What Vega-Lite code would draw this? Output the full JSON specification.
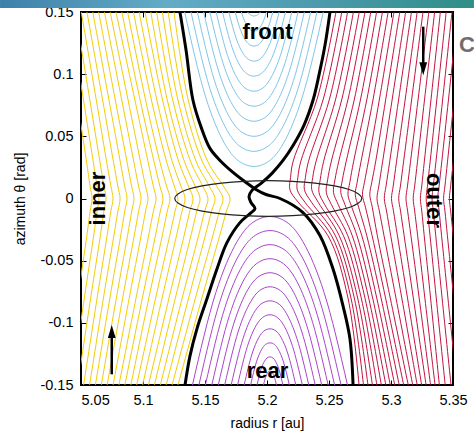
{
"$schema": "https://vega.github.io/schema/vega-lite/v6.json",
"width": 372, "height": 373,
"autosize": {"type": "none"},
"padding": {"left": 81, "top": 12, "right": 21, "bottom": 47},
"background": "white",
"config": {
 "font": "Liberation Sans",
 "view": {"stroke": "#000", "strokeWidth": 2},
 "axis": {"grid": false, "domain": false, "tickColor": "#000", "tickWidth": 1, "labelColor": "#000", "titleColor": "#000", "labelFont": "Liberation Sans", "titleFont": "Liberation Sans", "labelFontSize": 14.5, "titleFontSize": 14, "titleFontWeight": "normal"}
},
"datasets": {
 "banner": [{"r": 4.9847, "r2": 5.3669, "t": 0.1532, "t2": 0.1597}],
 "inner": [
 {"l":1,"r":5.1250,"t":0.15},{"l":1,"r":5.1363,"t":0.08},{"l":1,"r":5.1521,"t":0.03},{"l":1,"r":5.1648,"t":0.01},{"l":1,"r":5.1702,"t":0},{"l":1,"r":5.1673,"t":-0.01},{"l":1,"r":5.1618,"t":-0.03},{"l":1,"r":5.1475,"t":-0.08},{"l":1,"r":5.1282,"t":-0.15},
 {"l":2,"r":5.1203,"t":0.15},{"l":2,"r":5.1323,"t":0.08},{"l":2,"r":5.1477,"t":0.03},{"l":2,"r":5.1594,"t":0.01},{"l":2,"r":5.1645,"t":0},{"l":2,"r":5.1616,"t":-0.01},{"l":2,"r":5.1563,"t":-0.03},{"l":2,"r":5.1423,"t":-0.08},{"l":2,"r":5.1235,"t":-0.15},
 {"l":3,"r":5.1156,"t":0.15},{"l":3,"r":5.1280,"t":0.08},{"l":3,"r":5.1428,"t":0.03},{"l":3,"r":5.1534,"t":0.01},{"l":3,"r":5.1581,"t":0},{"l":3,"r":5.1553,"t":-0.01},{"l":3,"r":5.1502,"t":-0.03},{"l":3,"r":5.1368,"t":-0.08},{"l":3,"r":5.1187,"t":-0.15},
 {"l":4,"r":5.1110,"t":0.15},{"l":4,"r":5.1238,"t":0.08},{"l":4,"r":5.1383,"t":0.03},{"l":4,"r":5.1481,"t":0.01},{"l":4,"r":5.1524,"t":0},{"l":4,"r":5.1498,"t":-0.01},{"l":4,"r":5.1448,"t":-0.03},{"l":4,"r":5.1316,"t":-0.08},{"l":4,"r":5.1140,"t":-0.15},
 {"l":5,"r":5.1063,"t":0.15},{"l":5,"r":5.1194,"t":0.08},{"l":5,"r":5.1333,"t":0.03},{"l":5,"r":5.1420,"t":0.01},{"l":5,"r":5.1460,"t":0},{"l":5,"r":5.1434,"t":-0.01},{"l":5,"r":5.1386,"t":-0.03},{"l":5,"r":5.1261,"t":-0.08},{"l":5,"r":5.1092,"t":-0.15},
 {"l":6,"r":5.1016,"t":0.15},{"l":6,"r":5.1156,"t":0.08},{"l":6,"r":5.1287,"t":0.03},{"l":6,"r":5.1366,"t":0.01},{"l":6,"r":5.1403,"t":0},{"l":6,"r":5.1378,"t":-0.01},{"l":6,"r":5.1331,"t":-0.03},{"l":6,"r":5.1210,"t":-0.08},{"l":6,"r":5.1044,"t":-0.15},
 {"l":7,"r":5.0969,"t":0.15},{"l":7,"r":5.1110,"t":0.08},{"l":7,"r":5.1235,"t":0.03},{"l":7,"r":5.1306,"t":0.01},{"l":7,"r":5.1339,"t":0},{"l":7,"r":5.1315,"t":-0.01},{"l":7,"r":5.1270,"t":-0.03},{"l":7,"r":5.1154,"t":-0.08},{"l":7,"r":5.0997,"t":-0.15},
 {"l":8,"r":5.0923,"t":0.15},{"l":8,"r":5.1066,"t":0.08},{"l":8,"r":5.1189,"t":0.03},{"l":8,"r":5.1252,"t":0.01},{"l":8,"r":5.1282,"t":0},{"l":8,"r":5.1259,"t":-0.01},{"l":8,"r":5.1215,"t":-0.03},{"l":8,"r":5.1102,"t":-0.08},{"l":8,"r":5.0949,"t":-0.15},
 {"l":9,"r":5.0876,"t":0.15},{"l":9,"r":5.1019,"t":0.08},{"l":9,"r":5.1135,"t":0.03},{"l":9,"r":5.1190,"t":0.01},{"l":9,"r":5.1218,"t":0},{"l":9,"r":5.1196,"t":-0.01},{"l":9,"r":5.1155,"t":-0.03},{"l":9,"r":5.1047,"t":-0.08},{"l":9,"r":5.0902,"t":-0.15},
 {"l":10,"r":5.0829,"t":0.15},{"l":10,"r":5.0975,"t":0.08},{"l":10,"r":5.1088,"t":0.03},{"l":10,"r":5.1136,"t":0.01},{"l":10,"r":5.1161,"t":0},{"l":10,"r":5.1140,"t":-0.01},{"l":10,"r":5.1100,"t":-0.03},{"l":10,"r":5.0995,"t":-0.08},{"l":10,"r":5.0854,"t":-0.15},
 {"l":11,"r":5.0782,"t":0.15},{"l":11,"r":5.0933,"t":0.08},{"l":11,"r":5.1040,"t":0.03},{"l":11,"r":5.1083,"t":0.01},{"l":11,"r":5.1105,"t":0},{"l":11,"r":5.1084,"t":-0.01},{"l":11,"r":5.1045,"t":-0.03},{"l":11,"r":5.0944,"t":-0.08},{"l":11,"r":5.0806,"t":-0.15},
 {"l":12,"r":5.0735,"t":0.15},{"l":12,"r":5.0878,"t":0.08},{"l":12,"r":5.0979,"t":0.03},{"l":12,"r":5.1020,"t":0.01},{"l":12,"r":5.1040,"t":0},{"l":12,"r":5.1021,"t":-0.01},{"l":12,"r":5.0984,"t":-0.03},{"l":12,"r":5.0889,"t":-0.08},{"l":12,"r":5.0759,"t":-0.15},
 {"l":13,"r":5.0689,"t":0.15},{"l":13,"r":5.0827,"t":0.08},{"l":13,"r":5.0925,"t":0.03},{"l":13,"r":5.0964,"t":0.01},{"l":13,"r":5.0984,"t":0},{"l":13,"r":5.0965,"t":-0.01},{"l":13,"r":5.0929,"t":-0.03},{"l":13,"r":5.0836,"t":-0.08},{"l":13,"r":5.0711,"t":-0.15},
 {"l":14,"r":5.0642,"t":0.15},{"l":14,"r":5.0775,"t":0.08},{"l":14,"r":5.0870,"t":0.03},{"l":14,"r":5.0908,"t":0.01},{"l":14,"r":5.0927,"t":0},{"l":14,"r":5.0909,"t":-0.01},{"l":14,"r":5.0875,"t":-0.03},{"l":14,"r":5.0785,"t":-0.08},{"l":14,"r":5.0664,"t":-0.15},
 {"l":15,"r":5.0595,"t":0.15},{"l":15,"r":5.0724,"t":0.08},{"l":15,"r":5.0816,"t":0.03},{"l":15,"r":5.0852,"t":0.01},{"l":15,"r":5.0871,"t":0},{"l":15,"r":5.0853,"t":-0.01},{"l":15,"r":5.0820,"t":-0.03},{"l":15,"r":5.0733,"t":-0.08},{"l":15,"r":5.0616,"t":-0.15},
 {"l":16,"r":5.0548,"t":0.15},{"l":16,"r":5.0673,"t":0.08},{"l":16,"r":5.0761,"t":0.03},{"l":16,"r":5.0797,"t":0.01},{"l":16,"r":5.0815,"t":0},{"l":16,"r":5.0798,"t":-0.01},{"l":16,"r":5.0765,"t":-0.03},{"l":16,"r":5.0681,"t":-0.08},{"l":16,"r":5.0569,"t":-0.15},
 {"l":17,"r":5.0502,"t":0.15},{"l":17,"r":5.0622,"t":0.08},{"l":17,"r":5.0706,"t":0.03},{"l":17,"r":5.0741,"t":0.01},{"l":17,"r":5.0758,"t":0},{"l":17,"r":5.0741,"t":-0.01},{"l":17,"r":5.0710,"t":-0.03},{"l":17,"r":5.0630,"t":-0.08},{"l":17,"r":5.0521,"t":-0.15},
 {"l":18,"r":5.0455,"t":0.15},{"l":18,"r":5.0570,"t":0.08},{"l":18,"r":5.0652,"t":0.03},{"l":18,"r":5.0685,"t":0.01},{"l":18,"r":5.0702,"t":0},{"l":18,"r":5.0685,"t":-0.01},{"l":18,"r":5.0656,"t":-0.03},{"l":18,"r":5.0578,"t":-0.08},{"l":18,"r":5.0473,"t":-0.15},
 {"l":19,"r":5.0408,"t":0.15},{"l":19,"r":5.0519,"t":0.08},{"l":19,"r":5.0598,"t":0.03},{"l":19,"r":5.0629,"t":0.01},{"l":19,"r":5.0645,"t":0},{"l":19,"r":5.0630,"t":-0.01},{"l":19,"r":5.0602,"t":-0.03},{"l":19,"r":5.0527,"t":-0.08},{"l":19,"r":5.0426,"t":-0.15},
 {"l":20,"r":5.0361,"t":0.15},{"l":20,"r":5.0468,"t":0.08},{"l":20,"r":5.0544,"t":0.03},{"l":20,"r":5.0573,"t":0.01},{"l":20,"r":5.0589,"t":0},{"l":20,"r":5.0574,"t":-0.01},{"l":20,"r":5.0547,"t":-0.03},{"l":20,"r":5.0475,"t":-0.08},{"l":20,"r":5.0378,"t":-0.15}
 ],
 "outer": [
 {"l":1,"r":5.2556,"t":0.15},{"l":1,"r":5.2404,"t":0.08},{"l":1,"r":5.2211,"t":0.03},{"l":1,"r":5.2190,"t":0.017},{"l":1,"r":5.2185,"t":0.007},{"l":1,"r":5.2252,"t":-0.003},{"l":1,"r":5.2492,"t":-0.03},{"l":1,"r":5.2653,"t":-0.08},{"l":1,"r":5.2742,"t":-0.15},
 {"l":2,"r":5.2603,"t":0.15},{"l":2,"r":5.2454,"t":0.08},{"l":2,"r":5.2273,"t":0.03},{"l":2,"r":5.2249,"t":0.017},{"l":2,"r":5.2244,"t":0.007},{"l":2,"r":5.2306,"t":-0.003},{"l":2,"r":5.2521,"t":-0.03},{"l":2,"r":5.2677,"t":-0.08},{"l":2,"r":5.2778,"t":-0.15},
 {"l":3,"r":5.2650,"t":0.15},{"l":3,"r":5.2504,"t":0.08},{"l":3,"r":5.2335,"t":0.03},{"l":3,"r":5.2310,"t":0.017},{"l":3,"r":5.2302,"t":0.007},{"l":3,"r":5.2359,"t":-0.003},{"l":3,"r":5.2552,"t":-0.03},{"l":3,"r":5.2704,"t":-0.08},{"l":3,"r":5.2814,"t":-0.15},
 {"l":4,"r":5.2697,"t":0.15},{"l":4,"r":5.2554,"t":0.08},{"l":4,"r":5.2396,"t":0.03},{"l":4,"r":5.2369,"t":0.017},{"l":4,"r":5.2361,"t":0.007},{"l":4,"r":5.2413,"t":-0.003},{"l":4,"r":5.2583,"t":-0.03},{"l":4,"r":5.2731,"t":-0.08},{"l":4,"r":5.2850,"t":-0.15},
 {"l":5,"r":5.2744,"t":0.15},{"l":5,"r":5.2604,"t":0.08},{"l":5,"r":5.2457,"t":0.03},{"l":5,"r":5.2429,"t":0.015},{"l":5,"r":5.2419,"t":0.005},{"l":5,"r":5.2466,"t":-0.005},{"l":5,"r":5.2617,"t":-0.03},{"l":5,"r":5.2760,"t":-0.08},{"l":5,"r":5.2886,"t":-0.15},
 {"l":6,"r":5.2790,"t":0.15},{"l":6,"r":5.2654,"t":0.08},{"l":6,"r":5.2519,"t":0.03},{"l":6,"r":5.2489,"t":0.015},{"l":6,"r":5.2478,"t":0.005},{"l":6,"r":5.2520,"t":-0.005},{"l":6,"r":5.2652,"t":-0.03},{"l":6,"r":5.2790,"t":-0.08},{"l":6,"r":5.2922,"t":-0.15},
 {"l":7,"r":5.2837,"t":0.15},{"l":7,"r":5.2705,"t":0.08},{"l":7,"r":5.2579,"t":0.03},{"l":7,"r":5.2548,"t":0.015},{"l":7,"r":5.2536,"t":0.005},{"l":7,"r":5.2575,"t":-0.005},{"l":7,"r":5.2688,"t":-0.03},{"l":7,"r":5.2820,"t":-0.08},{"l":7,"r":5.2958,"t":-0.15},
 {"l":8,"r":5.2884,"t":0.15},{"l":8,"r":5.2755,"t":0.08},{"l":8,"r":5.2639,"t":0.03},{"l":8,"r":5.2608,"t":0.015},{"l":8,"r":5.2595,"t":0.005},{"l":8,"r":5.2629,"t":-0.005},{"l":8,"r":5.2726,"t":-0.03},{"l":8,"r":5.2852,"t":-0.08},{"l":8,"r":5.2994,"t":-0.15},
 {"l":9,"r":5.2931,"t":0.15},{"l":9,"r":5.2806,"t":0.08},{"l":9,"r":5.2699,"t":0.03},{"l":9,"r":5.2668,"t":0.013},{"l":9,"r":5.2653,"t":0.003},{"l":9,"r":5.2684,"t":-0.007},{"l":9,"r":5.2765,"t":-0.03},{"l":9,"r":5.2885,"t":-0.08},{"l":9,"r":5.3030,"t":-0.15},
 {"l":10,"r":5.2977,"t":0.15},{"l":10,"r":5.2856,"t":0.08},{"l":10,"r":5.2759,"t":0.03},{"l":10,"r":5.2727,"t":0.013},{"l":10,"r":5.2712,"t":0.003},{"l":10,"r":5.2739,"t":-0.007},{"l":10,"r":5.2805,"t":-0.03},{"l":10,"r":5.2920,"t":-0.08},{"l":10,"r":5.3066,"t":-0.15},
 {"l":11,"r":5.3024,"t":0.15},{"l":11,"r":5.2907,"t":0.08},{"l":11,"r":5.2818,"t":0.03},{"l":11,"r":5.2786,"t":0.013},{"l":11,"r":5.2770,"t":0.003},{"l":11,"r":5.2794,"t":-0.007},{"l":11,"r":5.2848,"t":-0.03},{"l":11,"r":5.2956,"t":-0.08},{"l":11,"r":5.3102,"t":-0.15},
 {"l":12,"r":5.3071,"t":0.15},{"l":12,"r":5.2958,"t":0.08},{"l":12,"r":5.2877,"t":0.03},{"l":12,"r":5.2845,"t":0.013},{"l":12,"r":5.2829,"t":0.003},{"l":12,"r":5.2849,"t":-0.007},{"l":12,"r":5.2890,"t":-0.03},{"l":12,"r":5.2994,"t":-0.08},{"l":12,"r":5.3139,"t":-0.15},
 {"l":13,"r":5.3118,"t":0.15},{"l":13,"r":5.3010,"t":0.08},{"l":13,"r":5.2933,"t":0.03},{"l":13,"r":5.2902,"t":0.01},{"l":13,"r":5.2887,"t":0},{"l":13,"r":5.2906,"t":-0.01},{"l":13,"r":5.2944,"t":-0.03},{"l":13,"r":5.3040,"t":-0.08},{"l":13,"r":5.3175,"t":-0.15},
 {"l":14,"r":5.3165,"t":0.15},{"l":14,"r":5.3062,"t":0.08},{"l":14,"r":5.2990,"t":0.03},{"l":14,"r":5.2960,"t":0.01},{"l":14,"r":5.2946,"t":0},{"l":14,"r":5.2964,"t":-0.01},{"l":14,"r":5.2998,"t":-0.03},{"l":14,"r":5.3087,"t":-0.08},{"l":14,"r":5.3211,"t":-0.15},
 {"l":15,"r":5.3211,"t":0.15},{"l":15,"r":5.3115,"t":0.08},{"l":15,"r":5.3045,"t":0.03},{"l":15,"r":5.3018,"t":0.01},{"l":15,"r":5.3004,"t":0},{"l":15,"r":5.3020,"t":-0.01},{"l":15,"r":5.3052,"t":-0.03},{"l":15,"r":5.3133,"t":-0.08},{"l":15,"r":5.3247,"t":-0.15},
 {"l":16,"r":5.3258,"t":0.15},{"l":16,"r":5.3167,"t":0.08},{"l":16,"r":5.3102,"t":0.03},{"l":16,"r":5.3076,"t":0.01},{"l":16,"r":5.3062,"t":0},{"l":16,"r":5.3077,"t":-0.01},{"l":16,"r":5.3106,"t":-0.03},{"l":16,"r":5.3180,"t":-0.08},{"l":16,"r":5.3283,"t":-0.15},
 {"l":17,"r":5.3305,"t":0.15},{"l":17,"r":5.3219,"t":0.08},{"l":17,"r":5.3158,"t":0.03},{"l":17,"r":5.3133,"t":0.01},{"l":17,"r":5.3121,"t":0},{"l":17,"r":5.3134,"t":-0.01},{"l":17,"r":5.3161,"t":-0.03},{"l":17,"r":5.3227,"t":-0.08},{"l":17,"r":5.3319,"t":-0.15},
 {"l":18,"r":5.3352,"t":0.15},{"l":18,"r":5.3271,"t":0.08},{"l":18,"r":5.3214,"t":0.03},{"l":18,"r":5.3191,"t":0.01},{"l":18,"r":5.3179,"t":0},{"l":18,"r":5.3191,"t":-0.01},{"l":18,"r":5.3215,"t":-0.03},{"l":18,"r":5.3273,"t":-0.08},{"l":18,"r":5.3355,"t":-0.15},
 {"l":19,"r":5.3398,"t":0.15},{"l":19,"r":5.3323,"t":0.08},{"l":19,"r":5.3269,"t":0.03},{"l":19,"r":5.3248,"t":0.01},{"l":19,"r":5.3237,"t":0},{"l":19,"r":5.3248,"t":-0.01},{"l":19,"r":5.3268,"t":-0.03},{"l":19,"r":5.3319,"t":-0.08},{"l":19,"r":5.3390,"t":-0.15},
 {"l":20,"r":5.3445,"t":0.15},{"l":20,"r":5.3370,"t":0.08},{"l":20,"r":5.3316,"t":0.03},{"l":20,"r":5.3294,"t":0.01},{"l":20,"r":5.3284,"t":0},{"l":20,"r":5.3294,"t":-0.01},{"l":20,"r":5.3315,"t":-0.03},{"l":20,"r":5.3365,"t":-0.08},{"l":20,"r":5.3437,"t":-0.15},
 {"l":21,"r":5.3492,"t":0.15},{"l":21,"r":5.3417,"t":0.08},{"l":21,"r":5.3363,"t":0.03},{"l":21,"r":5.3341,"t":0.01},{"l":21,"r":5.3331,"t":0},{"l":21,"r":5.3341,"t":-0.01},{"l":21,"r":5.3361,"t":-0.03},{"l":21,"r":5.3412,"t":-0.08},{"l":21,"r":5.3484,"t":-0.15},
 {"l":22,"r":5.3539,"t":0.15},{"l":22,"r":5.3464,"t":0.08},{"l":22,"r":5.3410,"t":0.03},{"l":22,"r":5.3388,"t":0.01},{"l":22,"r":5.3377,"t":0},{"l":22,"r":5.3388,"t":-0.01},{"l":22,"r":5.3408,"t":-0.03},{"l":22,"r":5.3459,"t":-0.08},{"l":22,"r":5.3531,"t":-0.15},
 {"l":23,"r":5.3585,"t":0.15},{"l":23,"r":5.3510,"t":0.08},{"l":23,"r":5.3456,"t":0.03},{"l":23,"r":5.3435,"t":0.01},{"l":23,"r":5.3424,"t":0},{"l":23,"r":5.3435,"t":-0.01},{"l":23,"r":5.3455,"t":-0.03},{"l":23,"r":5.3506,"t":-0.08},{"l":23,"r":5.3577,"t":-0.15},
 {"l":24,"r":5.3632,"t":0.15},{"l":24,"r":5.3557,"t":0.08},{"l":24,"r":5.3503,"t":0.03},{"l":24,"r":5.3481,"t":0.01},{"l":24,"r":5.3471,"t":0},{"l":24,"r":5.3481,"t":-0.01},{"l":24,"r":5.3502,"t":-0.03},{"l":24,"r":5.3552,"t":-0.08},{"l":24,"r":5.3624,"t":-0.15}
 ],
 "front": [
 {"l":1,"r":5.1844,"t":0.15},{"l":1,"r":5.1859,"t":0.1482},{"l":1,"r":5.1895,"t":0.1468},{"l":1,"r":5.1931,"t":0.1482},{"l":1,"r":5.1946,"t":0.15},
 {"l":2,"r":5.1793,"t":0.15},{"l":2,"r":5.1824,"t":0.1416},{"l":2,"r":5.1852,"t":0.1370},{"l":2,"r":5.1871,"t":0.1353},{"l":2,"r":5.1895,"t":0.1347},{"l":2,"r":5.1919,"t":0.1353},{"l":2,"r":5.1938,"t":0.1370},{"l":2,"r":5.1966,"t":0.1416},{"l":2,"r":5.1997,"t":0.15},
 {"l":3,"r":5.1743,"t":0.15},{"l":3,"r":5.1789,"t":0.1349},{"l":3,"r":5.1830,"t":0.1267},{"l":3,"r":5.1859,"t":0.1237},{"l":3,"r":5.1895,"t":0.1226},{"l":3,"r":5.1931,"t":0.1237},{"l":3,"r":5.1960,"t":0.1267},{"l":3,"r":5.2001,"t":0.1349},{"l":3,"r":5.2047,"t":0.15},
 {"l":4,"r":5.1692,"t":0.15},{"l":4,"r":5.1753,"t":0.1283},{"l":4,"r":5.1809,"t":0.1164},{"l":4,"r":5.1847,"t":0.1121},{"l":4,"r":5.1895,"t":0.1105},{"l":4,"r":5.1943,"t":0.1121},{"l":4,"r":5.1981,"t":0.1164},{"l":4,"r":5.2037,"t":0.1283},{"l":4,"r":5.2098,"t":0.15},
 {"l":5,"r":5.1641,"t":0.15},{"l":5,"r":5.1718,"t":0.1216},{"l":5,"r":5.1787,"t":0.1061},{"l":5,"r":5.1835,"t":0.1005},{"l":5,"r":5.1895,"t":0.0984},{"l":5,"r":5.1955,"t":0.1005},{"l":5,"r":5.2003,"t":0.1061},{"l":5,"r":5.2072,"t":0.1216},{"l":5,"r":5.2149,"t":0.15},
 {"l":6,"r":5.1590,"t":0.15},{"l":6,"r":5.1682,"t":0.1150},{"l":6,"r":5.1765,"t":0.0959},{"l":6,"r":5.1823,"t":0.0888},{"l":6,"r":5.1895,"t":0.0863},{"l":6,"r":5.1967,"t":0.0888},{"l":6,"r":5.2025,"t":0.0959},{"l":6,"r":5.2108,"t":0.1150},{"l":6,"r":5.2200,"t":0.15},
 {"l":7,"r":5.1539,"t":0.15},{"l":7,"r":5.1647,"t":0.1083},{"l":7,"r":5.1743,"t":0.0856},{"l":7,"r":5.1811,"t":0.0772},{"l":7,"r":5.1895,"t":0.0742},{"l":7,"r":5.1979,"t":0.0772},{"l":7,"r":5.2047,"t":0.0856},{"l":7,"r":5.2143,"t":0.1083},{"l":7,"r":5.2251,"t":0.15},
 {"l":8,"r":5.1489,"t":0.15},{"l":8,"r":5.1612,"t":0.1017},{"l":8,"r":5.1722,"t":0.0753},{"l":8,"r":5.1800,"t":0.0656},{"l":8,"r":5.1895,"t":0.0621},{"l":8,"r":5.1990,"t":0.0656},{"l":8,"r":5.2068,"t":0.0753},{"l":8,"r":5.2178,"t":0.1017},{"l":8,"r":5.2301,"t":0.15},
 {"l":9,"r":5.1438,"t":0.15},{"l":9,"r":5.1576,"t":0.095},{"l":9,"r":5.1700,"t":0.065},{"l":9,"r":5.1788,"t":0.054},{"l":9,"r":5.1895,"t":0.05},{"l":9,"r":5.2002,"t":0.054},{"l":9,"r":5.2090,"t":0.065},{"l":9,"r":5.2214,"t":0.095},{"l":9,"r":5.2352,"t":0.15},
 {"l":10,"r":5.1387,"t":0.15},{"l":10,"r":5.1540,"t":0.0883},{"l":10,"r":5.1679,"t":0.0547},{"l":10,"r":5.1776,"t":0.0424},{"l":10,"r":5.1895,"t":0.0379},{"l":10,"r":5.2014,"t":0.0424},{"l":10,"r":5.2111,"t":0.0547},{"l":10,"r":5.2250,"t":0.0883},{"l":10,"r":5.2403,"t":0.15},
 {"l":11,"r":5.1336,"t":0.15},{"l":11,"r":5.1505,"t":0.0817},{"l":11,"r":5.1657,"t":0.0444},{"l":11,"r":5.1764,"t":0.0308},{"l":11,"r":5.1895,"t":0.0258},{"l":11,"r":5.2026,"t":0.0308},{"l":11,"r":5.2133,"t":0.0444},{"l":11,"r":5.2285,"t":0.0817},{"l":11,"r":5.2454,"t":0.15}
 ],
 "rear": [
 {"l":1,"r":5.1972,"t":-0.15},{"l":1,"r":5.1988,"t":-0.1438},{"l":1,"r":5.2024,"t":-0.1387},{"l":1,"r":5.2060,"t":-0.1438},{"l":1,"r":5.2076,"t":-0.15},
 {"l":2,"r":5.1920,"t":-0.15},{"l":2,"r":5.1951,"t":-0.1376},{"l":2,"r":5.1980,"t":-0.1308},{"l":2,"r":5.2000,"t":-0.1283},{"l":2,"r":5.2024,"t":-0.1274},{"l":2,"r":5.2048,"t":-0.1283},{"l":2,"r":5.2068,"t":-0.1308},{"l":2,"r":5.2097,"t":-0.1376},{"l":2,"r":5.2128,"t":-0.15},
 {"l":3,"r":5.1868,"t":-0.15},{"l":3,"r":5.1915,"t":-0.1314},{"l":3,"r":5.1958,"t":-0.1212},{"l":3,"r":5.1987,"t":-0.1175},{"l":3,"r":5.2024,"t":-0.1161},{"l":3,"r":5.2061,"t":-0.1175},{"l":3,"r":5.2090,"t":-0.1212},{"l":3,"r":5.2133,"t":-0.1314},{"l":3,"r":5.2180,"t":-0.15},
 {"l":4,"r":5.1816,"t":-0.15},{"l":4,"r":5.1879,"t":-0.1251},{"l":4,"r":5.1935,"t":-0.1116},{"l":4,"r":5.1975,"t":-0.1066},{"l":4,"r":5.2024,"t":-0.1048},{"l":4,"r":5.2073,"t":-0.1066},{"l":4,"r":5.2113,"t":-0.1116},{"l":4,"r":5.2169,"t":-0.1251},{"l":4,"r":5.2232,"t":-0.15},
 {"l":5,"r":5.1763,"t":-0.15},{"l":5,"r":5.1842,"t":-0.1189},{"l":5,"r":5.1913,"t":-0.1020},{"l":5,"r":5.1963,"t":-0.0958},{"l":5,"r":5.2024,"t":-0.0935},{"l":5,"r":5.2085,"t":-0.0958},{"l":5,"r":5.2135,"t":-0.1020},{"l":5,"r":5.2206,"t":-0.1189},{"l":5,"r":5.2285,"t":-0.15},
 {"l":6,"r":5.1711,"t":-0.15},{"l":6,"r":5.1806,"t":-0.1128},{"l":6,"r":5.1891,"t":-0.0925},{"l":6,"r":5.1950,"t":-0.0850},{"l":6,"r":5.2024,"t":-0.0823},{"l":6,"r":5.2098,"t":-0.0850},{"l":6,"r":5.2157,"t":-0.0925},{"l":6,"r":5.2242,"t":-0.1128},{"l":6,"r":5.2337,"t":-0.15},
 {"l":7,"r":5.1659,"t":-0.15},{"l":7,"r":5.1769,"t":-0.1066},{"l":7,"r":5.1869,"t":-0.0829},{"l":7,"r":5.1938,"t":-0.0742},{"l":7,"r":5.2024,"t":-0.0710},{"l":7,"r":5.2110,"t":-0.0742},{"l":7,"r":5.2179,"t":-0.0829},{"l":7,"r":5.2279,"t":-0.1066},{"l":7,"r":5.2389,"t":-0.15},
 {"l":8,"r":5.1607,"t":-0.15},{"l":8,"r":5.1733,"t":-0.1003},{"l":8,"r":5.1846,"t":-0.0732},{"l":8,"r":5.1926,"t":-0.0633},{"l":8,"r":5.2024,"t":-0.0597},{"l":8,"r":5.2122,"t":-0.0633},{"l":8,"r":5.2202,"t":-0.0732},{"l":8,"r":5.2315,"t":-0.1003},{"l":8,"r":5.2441,"t":-0.15},
 {"l":9,"r":5.1555,"t":-0.15},{"l":9,"r":5.1697,"t":-0.0941},{"l":9,"r":5.1824,"t":-0.0636},{"l":9,"r":5.1914,"t":-0.0525},{"l":9,"r":5.2024,"t":-0.0484},{"l":9,"r":5.2134,"t":-0.0525},{"l":9,"r":5.2224,"t":-0.0636},{"l":9,"r":5.2351,"t":-0.0941},{"l":9,"r":5.2493,"t":-0.15},
 {"l":10,"r":5.1503,"t":-0.15},{"l":10,"r":5.1660,"t":-0.0879},{"l":10,"r":5.1802,"t":-0.0540},{"l":10,"r":5.1902,"t":-0.0416},{"l":10,"r":5.2024,"t":-0.0371},{"l":10,"r":5.2146,"t":-0.0416},{"l":10,"r":5.2246,"t":-0.0540},{"l":10,"r":5.2388,"t":-0.0879},{"l":10,"r":5.2545,"t":-0.15},
 {"l":11,"r":5.1451,"t":-0.15},{"l":11,"r":5.1624,"t":-0.0817},{"l":11,"r":5.1780,"t":-0.0444},{"l":11,"r":5.1889,"t":-0.0308},{"l":11,"r":5.2024,"t":-0.0258},{"l":11,"r":5.2159,"t":-0.0308},{"l":11,"r":5.2268,"t":-0.0444},{"l":11,"r":5.2424,"t":-0.0817},{"l":11,"r":5.2597,"t":-0.15},
 {"l":12,"r":5.1399,"t":-0.15},{"l":12,"r":5.1588,"t":-0.0755},{"l":12,"r":5.1758,"t":-0.0348},{"l":12,"r":5.1877,"t":-0.0199},{"l":12,"r":5.2024,"t":-0.0145},{"l":12,"r":5.2171,"t":-0.0199},{"l":12,"r":5.2290,"t":-0.0348},{"l":12,"r":5.2460,"t":-0.0755},{"l":12,"r":5.2649,"t":-0.15}
 ],
 "sep": [
 {"l":"A","r":5.1298,"t":0.15},{"l":"A","r":5.1347,"t":0.1194},{"l":"A","r":5.1403,"t":0.0790},{"l":"A","r":5.1470,"t":0.0570},{"l":"A","r":5.1540,"t":0.0403},{"l":"A","r":5.1621,"t":0.0306},{"l":"A","r":5.1726,"t":0.0210},{"l":"A","r":5.1831,"t":0.0129},{"l":"A","r":5.1911,"t":0.0073},{"l":"A","r":5.1992,"t":0.0032},{"l":"A","r":5.2105,"t":0},{"l":"A","r":5.2290,"t":-0.0113},{"l":"A","r":5.2427,"t":-0.0298},{"l":"A","r":5.2532,"t":-0.0565},{"l":"A","r":5.2613,"t":-0.0863},{"l":"A","r":5.2669,"t":-0.1129},{"l":"A","r":5.2694,"t":-0.15},
 {"l":"B","r":5.2508,"t":0.15},{"l":"B","r":5.2468,"t":0.1234},{"l":"B","r":5.2419,"t":0.0992},{"l":"B","r":5.2371,"t":0.0790},{"l":"B","r":5.2298,"t":0.0589},{"l":"B","r":5.2210,"t":0.0427},{"l":"B","r":5.2129,"t":0.0306},{"l":"B","r":5.2040,"t":0.0202},{"l":"B","r":5.1952,"t":0.0121},{"l":"B","r":5.1879,"t":0.0065},{"l":"B","r":5.1855,"t":0.0016},{"l":"B","r":5.1871,"t":-0.0032},{"l":"B","r":5.1903,"t":-0.0081},{"l":"B","r":5.1863,"t":-0.0121},{"l":"B","r":5.1782,"t":-0.0194},{"l":"B","r":5.1677,"t":-0.0355},{"l":"B","r":5.1597,"t":-0.0565},{"l":"B","r":5.1516,"t":-0.0806},{"l":"B","r":5.1435,"t":-0.1048},{"l":"B","r":5.1379,"t":-0.1266},{"l":"B","r":5.1339,"t":-0.15}
 ],
 "hill": [
 {"o":0,"r":5.2764,"t":0},{"o":1,"r":5.2738,"t":0.0037},{"o":2,"r":5.2663,"t":0.0072},{"o":3,"r":5.2543,"t":0.0101},{"o":4,"r":5.2387,"t":0.0124},{"o":5,"r":5.2205,"t":0.0138},{"o":6,"r":5.2010,"t":0.0143},{"o":7,"r":5.1815,"t":0.0138},{"o":8,"r":5.1633,"t":0.0124},{"o":9,"r":5.1477,"t":0.0101},{"o":10,"r":5.1357,"t":0.0072},{"o":11,"r":5.1282,"t":0.0037},
 {"o":12,"r":5.1256,"t":0},{"o":13,"r":5.1282,"t":-0.0037},{"o":14,"r":5.1357,"t":-0.0072},{"o":15,"r":5.1477,"t":-0.0101},{"o":16,"r":5.1633,"t":-0.0124},{"o":17,"r":5.1815,"t":-0.0138},{"o":18,"r":5.2010,"t":-0.0143},{"o":19,"r":5.2205,"t":-0.0138},{"o":20,"r":5.2387,"t":-0.0124},{"o":21,"r":5.2543,"t":-0.0101},{"o":22,"r":5.2663,"t":-0.0072},{"o":23,"r":5.2738,"t":-0.0037}
 ],
 "arrows": [
 {"a":"up","r":5.0748,"t":-0.1414},{"a":"up","r":5.0748,"t":-0.1065},
 {"a":"down","r":5.3260,"t":0.1382},{"a":"down","r":5.3260,"t":0.1047}
 ],
 "heads": [
 {"a":"up","r":5.0748,"t":-0.1069},
 {"a":"down","r":5.3260,"t":0.1044}
 ],
 "labels": [
 {"txt":"front","r":5.2004,"t":0.1343},
 {"txt":"rear","r":5.2004,"t":-0.1387},
 {"txt":"inner","r":5.0641,"t":0},
 {"txt":"outer","r":5.3343,"t":-0.0016},
 {"txt":"C","r":5.3548,"t":0.1234}
 ]
},
"resolve": {"axis": {"x": "independent", "y": "independent"}},
"layer": [
 {"data": {"name": "banner"},
  "mark": {"type": "rect", "clip": false, "color": {"gradient": "linear", "x1": 0, "x2": 1, "y1": 0, "y2": 0, "stops": [{"offset": 0, "color": "#3f80a9"}, {"offset": 0.35, "color": "#62acc6"}, {"offset": 0.65, "color": "#4e9bb0"}, {"offset": 1, "color": "#2f8e86"}]}},
  "encoding": {
   "x": {"field": "r", "type": "quantitative", "scale": {"domain": [5.05, 5.35], "nice": false, "zero": false}, "axis": null},
   "x2": {"field": "r2"},
   "y": {"field": "t", "type": "quantitative", "scale": {"domain": [-0.15, 0.15], "nice": false, "zero": false}, "axis": null},
   "y2": {"field": "t2"}
  }},
 {"data": {"name": "inner"},
  "mark": {"type": "line", "clip": true, "color": "#f2cc05", "strokeWidth": 1, "interpolate": "catmull-rom"},
  "encoding": {
   "x": {"field": "r", "type": "quantitative", "scale": {"domain": [5.05, 5.35], "nice": false, "zero": false},
     "axis": {"orient": "bottom", "values": [5.05, 5.1, 5.15, 5.2, 5.25, 5.3, 5.35], "format": ".2~f", "tickSize": -5, "labelPadding": 13, "labelAlign": {"condition": {"test": "datum.value < 5.06", "value": "left"}, "value": "center"}, "title": "radius r [au]", "titlePadding": 10}},
   "y": {"field": "t", "type": "quantitative", "scale": {"domain": [-0.15, 0.15], "nice": false, "zero": false},
     "axis": {"orient": "left", "values": [-0.15, -0.1, -0.05, 0, 0.05, 0.1, 0.15], "labelExpr": "replace(format(datum.value, '.2~f'), '\u2212', '-')", "tickSize": -5, "labelPadding": 13, "title": "azimuth \u03b8 [rad]", "titlePadding": 12}},
   "detail": {"field": "l"},
   "order": {"field": "t", "type": "quantitative"}
  }},
 {"data": {"name": "front"},
  "mark": {"type": "line", "clip": true, "color": "#80c5e8", "strokeWidth": 1, "interpolate": "monotone"},
  "encoding": {
   "x": {"field": "r", "type": "quantitative", "axis": null},
   "y": {"field": "t", "type": "quantitative", "axis": null},
   "detail": {"field": "l"},
   "order": {"field": "r", "type": "quantitative"}
  }},
 {"data": {"name": "rear"},
  "mark": {"type": "line", "clip": true, "color": "#aa44cc", "strokeWidth": 1, "interpolate": "monotone"},
  "encoding": {
   "x": {"field": "r", "type": "quantitative", "axis": null},
   "y": {"field": "t", "type": "quantitative", "axis": null},
   "detail": {"field": "l"},
   "order": {"field": "r", "type": "quantitative"}
  }},
 {"data": {"name": "outer"},
  "mark": {"type": "line", "clip": true, "color": "#c2143f", "strokeWidth": 1, "interpolate": "catmull-rom"},
  "encoding": {
   "x": {"field": "r", "type": "quantitative", "axis": null},
   "y": {"field": "t", "type": "quantitative", "axis": null},
   "detail": {"field": "l"},
   "order": {"field": "t", "type": "quantitative"}
  }},
 {"data": {"name": "sep"},
  "mark": {"type": "line", "clip": true, "color": "#000", "strokeWidth": 3, "interpolate": "catmull-rom"},
  "encoding": {
   "x": {"field": "r", "type": "quantitative", "axis": null},
   "y": {"field": "t", "type": "quantitative", "axis": null},
   "detail": {"field": "l"},
   "order": {"field": "t", "type": "quantitative"}
  }},
 {"data": {"name": "hill"},
  "mark": {"type": "line", "color": "#222", "strokeWidth": 1.2, "interpolate": "cardinal-closed"},
  "encoding": {
   "x": {"field": "r", "type": "quantitative", "axis": {"orient": "top", "values": [5.05, 5.1, 5.15, 5.2, 5.25, 5.3, 5.35], "labels": false, "tickSize": -5, "title": null}},
   "y": {"field": "t", "type": "quantitative", "axis": {"orient": "right", "values": [-0.15, -0.1, -0.05, 0, 0.05, 0.1, 0.15], "labels": false, "tickSize": -5, "title": null}},
   "order": {"field": "o", "type": "quantitative"}
  }},
 {"data": {"name": "arrows"},
  "mark": {"type": "line", "color": "#000", "strokeWidth": 2.5},
  "encoding": {
   "x": {"field": "r", "type": "quantitative", "axis": null},
   "y": {"field": "t", "type": "quantitative", "axis": null},
   "detail": {"field": "a"}
  }},
 {"data": {"name": "heads"},
  "transform": [{"filter": "datum.a == 'up'"}],
  "mark": {"type": "point", "shape": "M0,-1L0.6,1L-0.6,1Z", "filled": true, "color": "#000", "size": 169, "opacity": 1},
  "encoding": {
   "x": {"field": "r", "type": "quantitative", "axis": null},
   "y": {"field": "t", "type": "quantitative", "axis": null}
  }},
 {"data": {"name": "heads"},
  "transform": [{"filter": "datum.a == 'down'"}],
  "mark": {"type": "point", "shape": "M0,1L0.6,-1L-0.6,-1Z", "filled": true, "color": "#000", "size": 169, "opacity": 1},
  "encoding": {
   "x": {"field": "r", "type": "quantitative", "axis": null},
   "y": {"field": "t", "type": "quantitative", "axis": null}
  }},
 {"data": {"name": "labels"},
  "transform": [{"filter": "datum.txt == 'front' || datum.txt == 'rear'"}],
  "mark": {"type": "text", "font": "Liberation Sans", "fontSize": 22, "fontWeight": "bold", "align": "center", "baseline": "middle", "color": "#000"},
  "encoding": {
   "x": {"field": "r", "type": "quantitative", "axis": null},
   "y": {"field": "t", "type": "quantitative", "axis": null},
   "text": {"field": "txt"}
  }},
 {"data": {"name": "labels"},
  "transform": [{"filter": "datum.txt == 'inner'"}],
  "mark": {"type": "text", "font": "Liberation Sans", "fontSize": 22, "fontWeight": "bold", "align": "center", "baseline": "middle", "angle": 270, "color": "#000"},
  "encoding": {
   "x": {"field": "r", "type": "quantitative", "axis": null},
   "y": {"field": "t", "type": "quantitative", "axis": null},
   "text": {"field": "txt"}
  }},
 {"data": {"name": "labels"},
  "transform": [{"filter": "datum.txt == 'outer'"}],
  "mark": {"type": "text", "font": "Liberation Sans", "fontSize": 22, "fontWeight": "bold", "align": "center", "baseline": "middle", "angle": 90, "color": "#000"},
  "encoding": {
   "x": {"field": "r", "type": "quantitative", "axis": null},
   "y": {"field": "t", "type": "quantitative", "axis": null},
   "text": {"field": "txt"}
  }},
 {"data": {"name": "labels"},
  "transform": [{"filter": "datum.txt == 'C'"}],
  "mark": {"type": "text", "font": "Liberation Sans", "fontSize": 22, "fontWeight": "bold", "align": "left", "baseline": "middle", "color": "#6e6e6e", "clip": false},
  "encoding": {
   "x": {"field": "r", "type": "quantitative", "axis": null},
   "y": {"field": "t", "type": "quantitative", "axis": null},
   "text": {"field": "txt"}
  }}
]
}
